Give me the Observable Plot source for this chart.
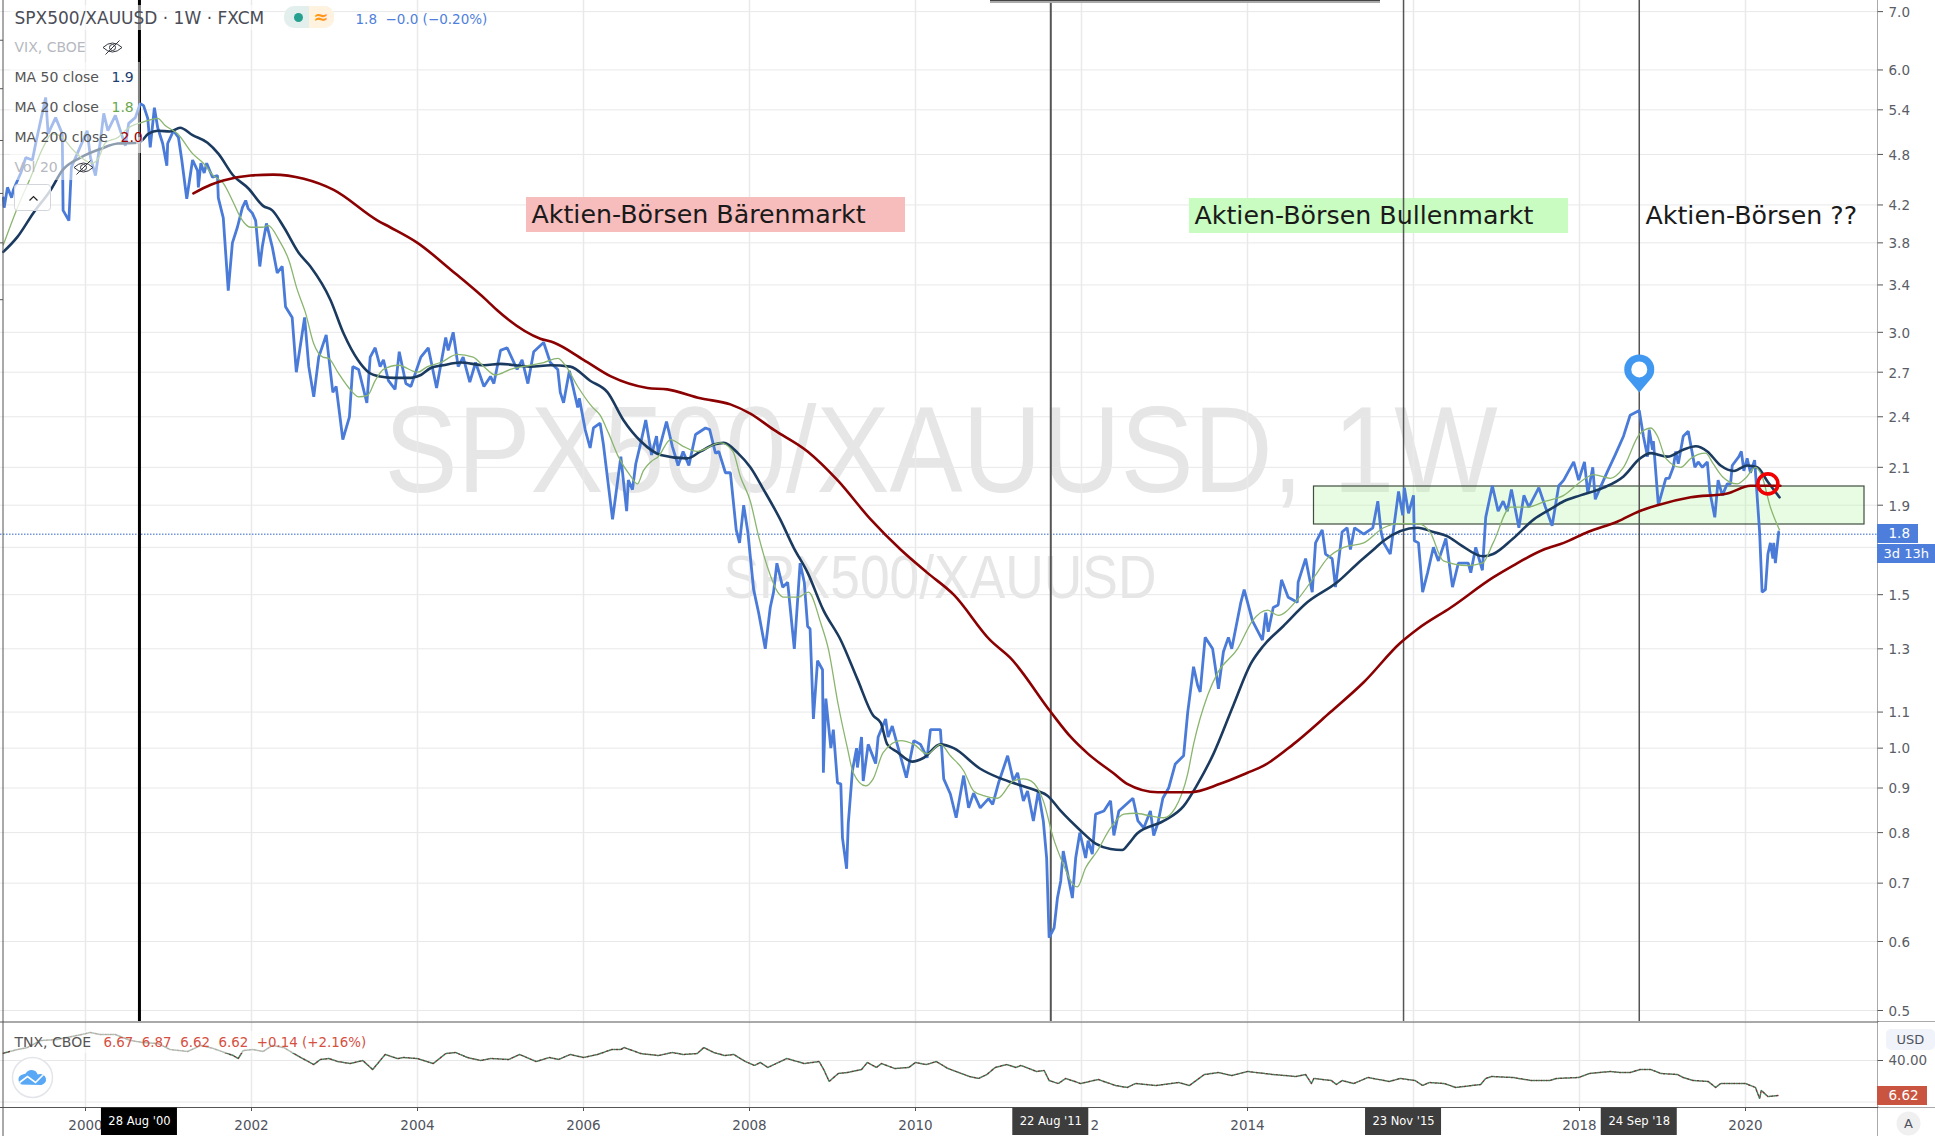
<!DOCTYPE html>
<html><head><meta charset="utf-8">
<script src="https://cdn.jsdelivr.net/npm/d3@7"></script>
<script src="https://cdn.jsdelivr.net/npm/@observablehq/plot@0.6"></script>
<style>html,body{margin:0;padding:0;background:#fff}#c{width:1935px;height:1136px;overflow:hidden}#c svg{display:block;background:#fff}</style>
</head><body><div id="c"></div>
<script>
const priceWeekly=[[1999.01,4.28],[1999.02,4.17],[1999.06,4.40],[1999.11,4.28],[1999.13,4.37],[1999.22,4.57],[1999.28,4.76],[1999.36,4.73],[1999.40,4.94],[1999.52,5.58],[1999.55,5.07],[1999.64,5.29],[1999.72,5.07],[1999.73,4.14],[1999.80,4.03],[1999.83,4.64],[1999.88,4.76],[2000.02,5.11],[2000.06,4.76],[2000.12,4.54],[2000.18,4.98],[2000.22,5.35],[2000.27,5.11],[2000.36,5.32],[2000.48,4.91],[2000.52,5.21],[2000.60,5.29],[2000.66,5.49],[2000.70,5.46],[2000.75,5.28],[2000.78,4.89],[2000.83,5.43],[2000.87,5.15],[2000.93,4.94],[2000.98,4.66],[2000.99,4.94],[2001.06,5.11],[2001.12,5.02],[2001.16,4.73],[2001.22,4.27],[2001.29,4.73],[2001.35,4.60],[2001.36,4.40],[2001.39,4.69],[2001.43,4.57],[2001.46,4.69],[2001.53,4.52],[2001.59,4.54],[2001.60,4.28],[2001.66,4.06],[2001.72,3.35],[2001.77,3.80],[2001.83,3.96],[2001.89,4.17],[2001.93,4.25],[2001.96,4.16],[2002.01,4.11],[2002.05,4.03],[2002.10,3.57],[2002.13,3.76],[2002.18,4.00],[2002.25,3.76],[2002.31,3.51],[2002.37,3.57],[2002.41,3.21],[2002.49,3.12],[2002.54,2.70],[2002.64,3.12],[2002.69,2.74],[2002.75,2.53],[2002.81,2.81],[2002.90,2.98],[2002.98,2.56],[2003.02,2.60],[2003.10,2.26],[2003.18,2.40],[2003.22,2.74],[2003.29,2.72],[2003.39,2.49],[2003.43,2.81],[2003.49,2.88],[2003.55,2.74],[2003.59,2.79],[2003.65,2.64],[2003.73,2.58],[2003.78,2.85],[2003.86,2.62],[2003.92,2.60],[2004.04,2.81],[2004.13,2.88],[2004.23,2.59],[2004.34,2.96],[2004.37,2.86],[2004.43,3.00],[2004.49,2.74],[2004.55,2.81],[2004.63,2.63],[2004.70,2.77],[2004.80,2.60],[2004.88,2.67],[2004.92,2.62],[2005.00,2.86],[2005.08,2.88],[2005.20,2.72],[2005.26,2.79],[2005.33,2.62],[2005.40,2.85],[2005.52,2.92],[2005.60,2.77],[2005.69,2.72],[2005.72,2.56],[2005.76,2.49],[2005.83,2.71],[2005.93,2.46],[2005.95,2.52],[2006.02,2.32],[2006.08,2.21],[2006.12,2.33],[2006.20,2.36],[2006.24,2.23],[2006.35,1.83],[2006.45,2.16],[2006.52,1.87],[2006.54,2.03],[2006.59,1.98],[2006.63,2.12],[2006.69,2.24],[2006.75,2.38],[2006.82,2.17],[2006.88,2.28],[2006.90,2.18],[2007.00,2.37],[2007.07,2.22],[2007.14,2.11],[2007.20,2.19],[2007.27,2.11],[2007.35,2.29],[2007.47,2.33],[2007.52,2.32],[2007.59,2.18],[2007.63,2.19],[2007.71,2.07],[2007.77,2.07],[2007.84,1.78],[2007.88,1.72],[2007.93,1.90],[2007.98,1.77],[2008.05,1.52],[2008.11,1.43],[2008.19,1.30],[2008.25,1.45],[2008.29,1.51],[2008.33,1.63],[2008.40,1.53],[2008.46,1.55],[2008.49,1.45],[2008.54,1.30],[2008.61,1.63],[2008.66,1.55],[2008.70,1.38],[2008.73,1.37],[2008.77,1.08],[2008.82,1.26],[2008.88,1.23],[2008.89,0.937],[2008.92,1.14],[2008.98,1.00],[2009.01,1.05],[2009.06,0.912],[2009.10,0.910],[2009.12,0.789],[2009.17,0.727],[2009.19,0.819],[2009.24,0.942],[2009.29,1.00],[2009.30,0.950],[2009.35,1.03],[2009.37,0.917],[2009.43,1.01],[2009.52,0.96],[2009.55,1.03],[2009.64,1.08],[2009.67,1.03],[2009.72,1.06],[2009.78,1.01],[2009.89,0.925],[2009.98,1.02],[2010.06,1.01],[2010.14,0.975],[2010.18,1.05],[2010.30,1.05],[2010.34,0.922],[2010.42,0.886],[2010.49,0.832],[2010.58,0.93],[2010.64,0.854],[2010.70,0.888],[2010.78,0.854],[2010.88,0.875],[2010.93,0.862],[2011.00,0.912],[2011.11,0.98],[2011.18,0.917],[2011.23,0.937],[2011.30,0.870],[2011.35,0.893],[2011.42,0.825],[2011.48,0.893],[2011.54,0.825],[2011.58,0.748],[2011.61,0.606],[2011.67,0.622],[2011.71,0.673],[2011.75,0.704],[2011.78,0.762],[2011.89,0.673],[2011.93,0.748],[2011.98,0.80],[2012.05,0.748],[2012.08,0.783],[2012.13,0.756],[2012.17,0.84],[2012.27,0.847],[2012.35,0.87],[2012.39,0.794],[2012.45,0.847],[2012.62,0.876],[2012.68,0.825],[2012.75,0.81],[2012.83,0.847],[2012.87,0.794],[2012.92,0.82],[2012.98,0.876],[2013.05,0.90],[2013.13,0.959],[2013.23,0.98],[2013.28,1.10],[2013.35,1.24],[2013.40,1.18],[2013.43,1.16],[2013.49,1.34],[2013.58,1.30],[2013.65,1.17],[2013.71,1.29],[2013.77,1.34],[2013.81,1.30],[2013.92,1.47],[2013.96,1.52],[2014.06,1.40],[2014.18,1.33],[2014.22,1.43],[2014.25,1.36],[2014.31,1.45],[2014.37,1.46],[2014.41,1.56],[2014.49,1.49],[2014.60,1.47],[2014.61,1.55],[2014.70,1.65],[2014.78,1.51],[2014.82,1.72],[2014.90,1.78],[2014.94,1.67],[2015.02,1.65],[2015.06,1.53],[2015.14,1.77],[2015.20,1.79],[2015.24,1.69],[2015.29,1.79],[2015.40,1.76],[2015.51,1.79],[2015.57,1.92],[2015.61,1.77],[2015.64,1.72],[2015.72,1.67],[2015.82,1.97],[2015.87,1.85],[2015.89,1.99],[2015.94,1.86],[2016.00,1.95],[2016.01,1.73],[2016.06,1.72],[2016.11,1.51],[2016.17,1.59],[2016.24,1.70],[2016.30,1.64],[2016.39,1.74],[2016.47,1.53],[2016.54,1.63],[2016.66,1.63],[2016.69,1.59],[2016.75,1.70],[2016.83,1.60],[2016.87,1.84],[2016.95,2.00],[2017.02,1.87],[2017.08,1.92],[2017.13,1.87],[2017.18,1.98],[2017.27,1.79],[2017.33,1.95],[2017.39,1.89],[2017.51,1.99],[2017.59,1.89],[2017.67,1.80],[2017.75,2.00],[2017.81,2.03],[2017.93,2.13],[2017.99,2.03],[2018.06,2.13],[2018.10,1.96],[2018.16,2.10],[2018.19,1.93],[2018.25,1.99],[2018.34,2.08],[2018.43,2.17],[2018.53,2.28],[2018.61,2.41],[2018.72,2.44],[2018.77,2.28],[2018.82,2.16],[2018.84,2.32],[2018.88,2.20],[2018.89,2.25],[2018.95,1.90],[2019.04,2.04],[2019.08,2.04],[2019.13,2.10],[2019.16,2.19],[2019.19,2.12],[2019.25,2.28],[2019.31,2.31],[2019.39,2.10],[2019.43,2.13],[2019.48,2.10],[2019.54,2.13],[2019.57,1.97],[2019.63,1.84],[2019.67,2.03],[2019.72,1.95],[2019.78,2.01],[2019.82,2.01],[2019.84,2.11],[2019.92,2.16],[2019.95,2.19],[2019.98,2.08],[2020.02,2.15],[2020.06,2.07],[2020.11,2.14],[2020.13,2.01],[2020.17,1.77],[2020.20,1.51],[2020.24,1.52],[2020.27,1.67],[2020.30,1.72],[2020.33,1.65],[2020.34,1.72],[2020.36,1.63],[2020.40,1.77]];
const ma20=[[1999.01,3.78],[1999.18,4.17],[1999.34,4.52],[1999.49,4.89],[1999.60,5.07],[1999.72,5.02],[1999.84,4.87],[1999.96,4.75],[2000.08,4.69],[2000.16,4.76],[2000.24,4.95],[2000.39,5.02],[2000.52,5.15],[2000.70,5.23],[2000.87,5.28],[2000.96,5.18],[2001.11,5.07],[2001.29,4.81],[2001.42,4.69],[2001.54,4.54],[2001.66,4.45],[2001.77,4.25],[2001.87,4.06],[2001.99,3.96],[2002.14,3.96],[2002.20,3.98],[2002.33,3.83],[2002.45,3.63],[2002.55,3.36],[2002.65,3.16],[2002.75,2.91],[2002.86,2.81],[2002.93,2.80],[2003.04,2.70],[2003.16,2.60],[2003.29,2.53],[2003.40,2.54],[2003.49,2.64],[2003.59,2.72],[2003.77,2.75],[2004.00,2.70],[2004.12,2.74],[2004.28,2.77],[2004.48,2.83],[2004.67,2.81],[2004.80,2.74],[2004.94,2.68],[2005.12,2.72],[2005.36,2.75],[2005.52,2.77],[2005.69,2.80],[2005.78,2.75],[2005.93,2.60],[2006.11,2.46],[2006.20,2.41],[2006.30,2.30],[2006.42,2.16],[2006.57,2.05],[2006.65,2.01],[2006.72,2.08],[2006.81,2.13],[2006.90,2.16],[2007.05,2.26],[2007.20,2.22],[2007.37,2.19],[2007.65,2.24],[2007.80,2.19],[2007.89,2.05],[2008.01,1.92],[2008.11,1.75],[2008.22,1.61],[2008.34,1.51],[2008.41,1.49],[2008.58,1.49],[2008.71,1.51],[2008.86,1.39],[2008.95,1.30],[2009.07,1.12],[2009.18,1.00],[2009.25,0.937],[2009.40,0.905],[2009.49,0.922],[2009.61,0.988],[2009.82,1.02],[2009.98,1.01],[2010.14,0.985],[2010.30,1.01],[2010.42,0.98],[2010.58,0.942],[2010.70,0.893],[2010.82,0.882],[2010.99,0.876],[2011.18,0.917],[2011.30,0.922],[2011.39,0.917],[2011.54,0.870],[2011.66,0.789],[2011.78,0.736],[2011.89,0.699],[2011.95,0.693],[2012.05,0.729],[2012.19,0.762],[2012.35,0.81],[2012.51,0.84],[2012.65,0.842],[2012.83,0.836],[2012.99,0.832],[2013.13,0.854],[2013.28,0.935],[2013.35,1.01],[2013.52,1.15],[2013.64,1.22],[2013.88,1.30],[2014.06,1.40],[2014.24,1.44],[2014.37,1.42],[2014.60,1.48],[2014.80,1.57],[2014.96,1.65],[2015.16,1.70],[2015.40,1.72],[2015.64,1.79],[2015.82,1.81],[2016.05,1.81],[2016.20,1.77],[2016.36,1.64],[2016.65,1.62],[2016.83,1.63],[2016.96,1.72],[2017.17,1.89],[2017.37,1.89],[2017.59,1.92],[2017.81,1.95],[2018.01,2.02],[2018.17,2.06],[2018.37,2.04],[2018.53,2.10],[2018.72,2.29],[2018.86,2.33],[2018.94,2.28],[2019.04,2.15],[2019.22,2.10],[2019.34,2.15],[2019.52,2.18],[2019.61,2.12],[2019.72,2.05],[2019.90,2.01],[2020.00,2.04],[2020.12,2.10],[2020.20,2.05],[2020.30,1.89],[2020.41,1.78]];
const ma50=[[1999.01,3.71],[1999.18,3.86],[1999.37,4.11],[1999.58,4.37],[1999.72,4.60],[1999.94,4.76],[2000.18,4.87],[2000.39,4.94],[2000.64,4.95],[2000.76,5.07],[2000.87,5.11],[2001.02,5.10],[2001.14,5.15],[2001.29,5.05],[2001.47,4.95],[2001.60,4.81],[2001.78,4.54],[2001.96,4.39],[2002.14,4.19],[2002.25,4.14],[2002.39,3.96],[2002.57,3.70],[2002.71,3.57],[2002.95,3.27],[2003.11,2.99],[2003.28,2.79],[2003.41,2.70],[2003.55,2.67],[2003.71,2.66],[2003.92,2.66],[2004.04,2.68],[2004.16,2.73],[2004.31,2.75],[2004.52,2.77],[2004.80,2.75],[2005.00,2.76],[2005.36,2.74],[2005.60,2.75],[2005.84,2.74],[2006.08,2.64],[2006.29,2.56],[2006.48,2.38],[2006.69,2.25],[2006.93,2.17],[2007.25,2.15],[2007.41,2.19],[2007.57,2.23],[2007.69,2.24],[2007.86,2.18],[2008.01,2.10],[2008.17,1.98],[2008.37,1.83],[2008.53,1.70],[2008.70,1.59],[2008.89,1.44],[2009.10,1.33],[2009.30,1.20],[2009.49,1.09],[2009.58,1.07],[2009.66,1.01],[2009.78,0.99],[2009.96,0.965],[2010.10,0.975],[2010.30,1.01],[2010.46,1.00],[2010.78,0.947],[2011.00,0.925],[2011.18,0.912],[2011.47,0.893],[2011.59,0.882],[2011.75,0.847],[2011.99,0.804],[2012.17,0.777],[2012.35,0.766],[2012.49,0.764],[2012.57,0.777],[2012.67,0.798],[2012.99,0.825],[2013.23,0.858],[2013.40,0.91],[2013.59,0.985],[2013.83,1.12],[2014.04,1.25],[2014.19,1.31],[2014.43,1.38],[2014.72,1.47],[2015.08,1.55],[2015.33,1.63],[2015.52,1.69],[2015.64,1.73],[2016.05,1.79],[2016.24,1.77],[2016.41,1.75],[2016.57,1.71],[2016.84,1.66],[2016.96,1.67],[2017.20,1.74],[2017.45,1.83],[2017.65,1.88],[2017.81,1.92],[2018.01,1.95],[2018.29,1.99],[2018.53,2.05],[2018.73,2.15],[2018.86,2.18],[2019.06,2.16],[2019.25,2.20],[2019.40,2.22],[2019.54,2.19],[2019.70,2.11],[2019.86,2.08],[2020.02,2.11],[2020.14,2.10],[2020.27,2.02],[2020.41,1.94]];
const ma200=[[2001.30,4.33],[2001.51,4.43],[2001.66,4.48],[2001.99,4.54],[2002.26,4.55],[2002.63,4.50],[2002.99,4.37],[2003.52,4.03],[2003.67,3.96],[2004.00,3.80],[2004.40,3.54],[2004.84,3.26],[2004.96,3.18],[2005.48,2.95],[2005.64,2.92],[2006.00,2.79],[2006.33,2.67],[2006.77,2.59],[2007.01,2.58],[2007.41,2.52],[2007.77,2.48],[2008.01,2.42],[2008.29,2.32],[2008.70,2.19],[2009.06,2.03],[2009.46,1.83],[2009.82,1.69],[2010.14,1.59],[2010.46,1.50],[2010.90,1.33],[2011.14,1.27],[2011.63,1.10],[2011.87,1.03],[2012.08,0.985],[2012.39,0.935],[2012.55,0.91],[2012.92,0.89],[2013.31,0.89],[2013.67,0.91],[2014.00,0.937],[2014.19,0.954],[2014.55,1.01],[2015.00,1.10],[2015.40,1.19],[2015.84,1.32],[2016.05,1.37],[2016.45,1.45],[2016.96,1.57],[2017.20,1.62],[2017.57,1.69],[2017.81,1.72],[2018.10,1.77],[2018.46,1.82],[2018.72,1.87],[2018.94,1.90],[2019.34,1.94],[2019.78,1.96],[2020.06,2.00],[2020.42,2.00]];
const tnx=[[1999.01,47],[1999.18,50.6],[1999.30,52.5],[1999.46,59.3],[1999.66,60.2],[1999.90,64.1],[2000.06,67],[2000.18,65],[2000.36,65],[2000.54,59.3],[2000.70,57.3],[2000.87,56.4],[2001.02,50.6],[2001.23,48.7],[2001.39,54.5],[2001.54,51.6],[2001.78,44.8],[2001.84,41.9],[2001.90,49.6],[2002.02,50.6],[2002.14,48.7],[2002.25,54.5],[2002.39,52.5],[2002.55,44.8],[2002.75,36.1],[2002.83,41],[2002.93,41.9],[2003.04,39],[2003.19,37.1],[2003.34,40],[2003.46,31.3],[2003.55,40],[2003.61,45.8],[2003.76,41.9],[2003.83,42.9],[2004.00,41.9],[2004.19,37.1],[2004.34,46.7],[2004.46,47.7],[2004.60,42.9],[2004.76,40],[2004.88,41.9],[2005.10,41],[2005.23,45.8],[2005.43,39],[2005.59,42.9],[2005.70,41],[2005.84,45.8],[2006.00,42.9],[2006.17,45.8],[2006.34,50.6],[2006.45,50.6],[2006.49,52.5],[2006.69,46.7],[2006.90,44.8],[2007.07,47.7],[2007.20,45.8],[2007.37,46.7],[2007.45,52.5],[2007.57,47.7],[2007.70,44.8],[2007.81,45.8],[2007.95,39],[2008.06,35.2],[2008.13,38.1],[2008.22,33.3],[2008.45,41.9],[2008.66,37.1],[2008.84,39],[2008.90,30.4],[2008.96,19.8],[2009.07,27.5],[2009.18,28.4],[2009.35,31.3],[2009.42,38.1],[2009.53,33.3],[2009.59,37.1],[2009.75,32.3],[2009.92,33.3],[2010.00,38.1],[2010.13,36.1],[2010.25,39],[2010.39,32.3],[2010.65,24.6],[2010.76,22.7],[2010.86,26.5],[2010.96,33.3],[2011.10,36.1],[2011.21,33.3],[2011.27,35.2],[2011.46,29.4],[2011.55,30.4],[2011.61,20.7],[2011.72,17.8],[2011.81,22.7],[2011.99,17.8],[2012.20,21.7],[2012.41,15.9],[2012.55,14],[2012.65,17.8],[2012.90,15.9],[2013.17,18.8],[2013.30,15.9],[2013.48,26.5],[2013.65,28.4],[2013.81,25.5],[2014.00,29.4],[2014.31,26.5],[2014.58,24.6],[2014.70,26.5],[2014.77,17.8],[2014.80,22.7],[2015.01,20.7],[2015.07,16.9],[2015.14,20.7],[2015.28,17.8],[2015.45,23.6],[2015.71,19.8],[2015.84,22.7],[2016.02,20.7],[2016.11,15.9],[2016.19,18.8],[2016.37,17.8],[2016.51,14],[2016.81,16.9],[2016.87,22.7],[2016.94,24.6],[2017.20,23.6],[2017.42,20.7],[2017.64,20.7],[2017.72,22.7],[2017.99,23.6],[2018.12,27.5],[2018.37,29.4],[2018.49,28.4],[2018.61,28.4],[2018.73,31.3],[2018.86,31.3],[2018.98,27.5],[2019.18,26.5],[2019.25,23.6],[2019.37,20.7],[2019.55,19.8],[2019.64,14],[2019.70,17.8],[2019.82,17.8],[2020.00,17.8],[2020.12,14],[2020.17,3.4],[2020.19,11.1],[2020.27,5.3],[2020.40,6.3]];
const priceGrid=[7.0,6.0,5.4,4.8,4.2,3.8,3.4,3.0,2.7,2.4,2.1,1.9,1.7,1.5,1.3,1.1,1.0,0.9,0.8,0.7,0.6,0.5];
const priceLabels=[7.0,6.0,5.4,4.8,4.2,3.8,3.4,3.0,2.7,2.4,2.1,1.9,1.5,1.3,1.1,1.0,0.9,0.8,0.7,0.6,0.5];
const leftTicks=[6.49,5.71,4.98,4.33,3.80,3.27];
const yearTicks=[2000,2002,2004,2006,2008,2010,2012,2014,2016,2018,2020];
const yearLabels=[2000,2002,2004,2006,2008,2010,2014,2018,2020];
const events=[{x:2000.65,d:"28 Aug '00",c:"#000",w:3,s:"#000"},{x:2011.63,d:"22 Aug '11",c:"#3d3d3d",w:2,s:"#555"},{x:2015.88,d:"23 Nov '15",c:"#3d3d3d",w:1.5,s:"#555"},{x:2018.72,d:"24 Sep '18",c:"#3d3d3d",w:1.5,s:"#555"}];
const lastPrice=1.76, lastTnx=6.62;

const W=1935,H1=1021,H2=115;
// pixel <-> data helpers for chart chrome (legend, tags, buttons)
const X=p=>2000+(p-85)/83;
const Y=p=>0.5*Math.exp((1010-p)/378.5);
const T=p=>(1101.5-p)/1.0375;
const xDom=[X(0),X(W)];
const FONT="DejaVu Sans";
const pts=a=>a.map(([x,y])=>({x,y}));
const lbl=(Yf,px,py,t,o={})=>Plot.text([{x:X(px),y:Yf(py),t}],{x:"x",y:"y",text:"t",textAnchor:"start",lineAnchor:"middle",fontFamily:FONT,fontSize:14,fill:"#555",...o});
const box=(Yf,x0,y0,x1,y1,o={})=>Plot.rect([{a:X(x0),b:X(x1),c:Yf(y0),d:Yf(y1)}],{x1:"a",x2:"b",y1:"c",y2:"d",...o});
const eye={draw(c){c.moveTo(-9.5,0);c.quadraticCurveTo(0,-9,9.5,0);c.quadraticCurveTo(0,9,-9.5,0);c.closePath();c.moveTo(3,0);c.arc(0,0,3,0,2*Math.PI);c.moveTo(-7,7);c.lineTo(7,-7);}};
const pin={draw(c){c.moveTo(0,23);c.arc(0,0,15,0.82*Math.PI,2.18*Math.PI);c.closePath();}};
const cloud={draw(c){c.moveTo(-13,7);c.arc(-9,2,5,0.6*Math.PI,1.4*Math.PI);c.arc(-1,-1,6.5,1.15*Math.PI,1.9*Math.PI);c.arc(8,2,5.5,1.4*Math.PI,2.45*Math.PI);c.closePath();}};
const zig={draw(c){c.moveTo(-13,5);c.lineTo(-5,-1);c.lineTo(3,5);c.lineTo(11,-3);}};
const caret={draw(c){c.moveTo(-4,2);c.lineTo(0,-2);c.lineTo(4,2);}};

const pricePanel=Plot.plot({
  width:W,height:H1,margin:0,
  x:{axis:null,domain:xDom,range:[0,W]},
  y:{axis:null,type:"log",domain:[Y(H1),Y(0)],range:[H1,0]},
  marks:[
    lbl(Y,384,452,"SPX500/XAUUSD, 1W",{fontFamily:"Liberation Sans",fontSize:122,fill:"#e6e6e6",className:"wm1"}),
    lbl(Y,723,578,"SPX500/XAUUSD",{fontFamily:"Liberation Sans",fontSize:62,fill:"#e6e6e6",className:"wm2"}),
    Plot.ruleY(priceGrid,{x1:xDom[0],x2:X(1877),y:d=>d,stroke:"#e8e8e8",strokeWidth:1}),
    Plot.ruleX(yearTicks,{x:d=>d,stroke:"#e9e9e9",strokeWidth:1.5}),
    box(Y,526,197,905,232,{fill:"#f7bcbc"}),
    box(Y,1189,198,1568,233,{fill:"#c8fcc0"}),
    box(Y,1313.5,486,1864,524,{fill:"#b9f5ad",fillOpacity:0.33,stroke:"#3f4f3f",strokeWidth:1.2}),
    Plot.ruleY([lastPrice],{x1:xDom[0],x2:X(1877),y:d=>d,stroke:"#2f62c9",strokeWidth:1,strokeDasharray:"1.5,1.5"}),
    Plot.ruleX(events,{x:"x",stroke:"s",strokeWidth:"w"}),
    box(Y,990,0,1380,1,{fill:"#444"}),
    box(Y,990,1,1380,3,{fill:"#aaa"}),
    Plot.line(pts(priceWeekly),{x:"x",y:"y",stroke:"#4a7bd8",strokeWidth:2.8,strokeLinejoin:"miter"}),
    Plot.line(pts(ma50),{x:"x",y:"y",stroke:"#1b3a5f",strokeWidth:2.6,curve:"monotone-x"}),
    Plot.line(pts(ma20),{x:"x",y:"y",stroke:"#8ab56e",strokeWidth:1.3,curve:"monotone-x"}),
    Plot.line(pts(ma200),{x:"x",y:"y",stroke:"#8b0000",strokeWidth:2.6,curve:"monotone-x"}),
    Plot.dot([{x:2018.72,y:2.72}],{x:"x",y:"y",r:10,symbol:pin,fill:"#4098f0",stroke:"none"}),
    Plot.dot([{x:2018.72,y:2.72}],{x:"x",y:"y",r:8,fill:"#fff",stroke:"none"}),
    Plot.dot([{x:2020.27,y:2.01}],{x:"x",y:"y",r:10,fill:"none",stroke:"#f00000",strokeWidth:3.6}),
    lbl(Y,531,214,"Aktien-Börsen Bärenmarkt",{fontSize:25.3,fill:"#1a1a1a"}),
    lbl(Y,1194,215,"Aktien-Börsen Bullenmarkt",{fontSize:25.3,fill:"#1a1a1a"}),
    lbl(Y,1645,215,"Aktien-Börsen ??",{fontSize:25.3,fill:"#1a1a1a"}),
    box(Y,10,62,140,180,{fill:"#fff",fillOpacity:0.5}),
    box(Y,10,5,264,30,{fill:"#fff",fillOpacity:0.55}),
    box(Y,136,137,143,153,{fill:"#fff",fillOpacity:0.55}),
    lbl(Y,14,18,"SPX500/XAUUSD · 1W · FXCM",{fontSize:17,fill:"#4a4d57"}),
    box(Y,284,6,334,28,{fill:"#e3efec",rx:10}),
    box(Y,309,6,334,28,{fill:"#fff2df",rx:10}),
    box(Y,309,6,322,28,{fill:"#fff2df"}),
    Plot.dot([{x:X(298),y:Y(17)}],{x:"x",y:"y",r:4.5,fill:"#26a08f",stroke:"none"}),
    lbl(Y,313,17,"≈",{fontSize:18,fill:"#ff9819",fontWeight:"bold"}),
    lbl(Y,355,19,"1.8  −0.0 (−0.20%)",{fontSize:13.5,fill:"#4f7fdc"}),
    lbl(Y,14,47,"VIX, CBOE",{fontSize:14,fill:"#b6b9c0"}),
    Plot.dot([{x:X(112),y:Y(47)}],{x:"x",y:"y",r:8,symbol:eye,fill:"none",stroke:"#33363f",strokeWidth:1}),
    lbl(Y,14,77,"MA 50 close",{fill:"#555"}),
    lbl(Y,111,77,"1.9",{fill:"#1c3d6e"}),
    lbl(Y,14,107,"MA 20 close",{fill:"#555"}),
    lbl(Y,111,107,"1.8",{fill:"#6aa84f"}),
    lbl(Y,14,137,"MA 200 close",{fill:"#555"}),
    lbl(Y,120,137,"2.0",{fill:"#a00000"}),
    lbl(Y,14,167,"Vol 20",{fill:"#b6b9c0"}),
    Plot.dot([{x:X(83),y:Y(167)}],{x:"x",y:"y",r:8,symbol:eye,fill:"none",stroke:"#33363f",strokeWidth:1}),
    box(Y,14.5,184.5,50.5,210.5,{fill:"#fff",fillOpacity:0.8,stroke:"#d2d5dc",rx:3}),
    Plot.dot([{x:X(33),y:Y(198)}],{x:"x",y:"y",r:5,symbol:caret,fill:"none",stroke:"#222",strokeWidth:1.2}),
    Plot.ruleY(leftTicks,{x1:xDom[0],x2:X(3),y:d=>d,stroke:"#555"}),
    Plot.ruleX([X(2.5),X(1877.5)],{x:d=>d,stroke:"#555",strokeWidth:1}),
    box(Y,1878,0,1935,H1,{fill:"#fff"}),
    Plot.ruleY(priceLabels,{x1:X(1877.5),x2:X(1883),y:d=>d,stroke:"#555"}),
    Plot.text(priceLabels,{x:X(1888),y:d=>d,dy:1,text:d=>d.toFixed(1),textAnchor:"start",lineAnchor:"middle",fontFamily:FONT,fontSize:13.5,fill:"#5a5d66"}),
    box(Y,1877,524,1918,543,{fill:"#4e7edb"}),
    box(Y,1877,544,1935,563,{fill:"#4e7edb"}),
    lbl(Y,1888,533.5,"1.8",{fontSize:13.5,fill:"#fff"}),
    lbl(Y,1883,553.5,"3d 13h",{fontSize:13,fill:"#fff"})
  ]
});

const tnxPanel=Plot.plot({
  width:W,height:H2,margin:0,
  x:{axis:null,domain:xDom,range:[0,W]},
  y:{axis:null,domain:[T(1136),T(1021)],range:[H2,0]},
  marks:[
    Plot.ruleY([40,0],{x1:xDom[0],x2:X(1877),y:d=>d,stroke:"#e8e8e8"}),
    Plot.ruleX(yearTicks,{x:d=>d,y1:T(1022),y2:T(1107),stroke:"#e9e9e9",strokeWidth:1.5}),
    Plot.line(pts(tnx),{x:"x",y:"y",stroke:"#6d3a35",strokeWidth:1.5,strokeDasharray:"1.5,3.5"}),
    Plot.line(pts(tnx),{x:"x",y:"y",stroke:"#3f7d5a",strokeWidth:1.5,strokeDasharray:"1.5,3.5",strokeDashoffset:2.5}),
    box(T,10,1031,368,1053,{fill:"#fff",fillOpacity:0.55}),
    lbl(T,14,1042,"TNX, CBOE",{fontSize:14,fill:"#555"}),
    lbl(T,103,1042,"6.67  6.87  6.62  6.62  +0.14 (+2.16%)",{fontSize:13.4,fill:"#d6503f"}),
    Plot.dot([{x:X(32),y:T(1077)}],{x:"x",y:"y",r:20,fill:"#fff",stroke:"#e3e5ea",strokeWidth:1.5}),
    Plot.dot([{x:X(32),y:T(1077)}],{x:"x",y:"y",r:8,symbol:cloud,fill:"#58a8f5",stroke:"none"}),
    Plot.dot([{x:X(32),y:T(1077)}],{x:"x",y:"y",r:8,symbol:zig,fill:"none",stroke:"#fff",strokeWidth:1.6}),
    Plot.ruleX([X(2.5),X(1877.5)],{x:d=>d,stroke:"#555"}),
    Plot.ruleY([T(1021.5),T(1107)],{x1:xDom[0],x2:X(W),y:d=>d,stroke:"#555"}),
    box(T,1878,1022,1935,1106.5,{fill:"#fff"}),
    box(T,1878,1107.5,1935,1136,{fill:"#fff"}),
    Plot.ruleX(yearTicks,{x:d=>d,y1:T(1107),y2:T(1111),stroke:"#555"}),
    Plot.text(yearLabels,{x:d=>d,y:T(1125),text:d=>String(d),textAnchor:"middle",lineAnchor:"middle",fontFamily:FONT,fontSize:13.5,fill:"#50535e"}),
    Plot.rect(events,{x1:d=>d.x-38/83,x2:d=>d.x+38/83,y1:T(1107.5),y2:T(1135),fill:"c"}),
    Plot.text(events,{x:"x",y:T(1121),text:"d",textAnchor:"middle",lineAnchor:"middle",fontFamily:FONT,fontSize:11.5,fill:"#fff"}),
    lbl(T,1090,1125,"2",{fontSize:13.5,fill:"#50535e"}),
    box(T,1886,1029,1935,1050,{fill:"#f0f3fa",rx:5}),
    lbl(T,1896,1039.5,"USD",{fontSize:13,fill:"#50535e"}),
    Plot.ruleY([40],{x1:X(1877.5),x2:X(1883),y:d=>d,stroke:"#555"}),
    Plot.text([40],{x:X(1888),y:d=>d,text:d=>d.toFixed(2),textAnchor:"start",lineAnchor:"middle",fontFamily:FONT,fontSize:13.5,fill:"#5a5d66"}),
    box(T,1877,1086,1927,1105,{fill:"#c95541"}),
    lbl(T,1888,1095,lastTnx.toFixed(2),{fontSize:13.5,fill:"#fff"}),
    Plot.dot([{x:X(1908),y:T(1123)}],{x:"x",y:"y",r:12,fill:"#f0f0f0",stroke:"none"}),
    Plot.text(["A"],{x:X(1908),y:T(1123),text:d=>d,textAnchor:"middle",lineAnchor:"middle",fontFamily:FONT,fontSize:13,fill:"#50535e"})
  ]
});
document.getElementById("c").append(pricePanel,tnxPanel);
pricePanel.querySelectorAll(".wm1 text").forEach(t=>{t.setAttribute("textLength",1113);t.setAttribute("lengthAdjust","spacingAndGlyphs");});
pricePanel.querySelectorAll(".wm2 text").forEach(t=>{t.setAttribute("textLength",433);t.setAttribute("lengthAdjust","spacingAndGlyphs");});
</script></body></html>
